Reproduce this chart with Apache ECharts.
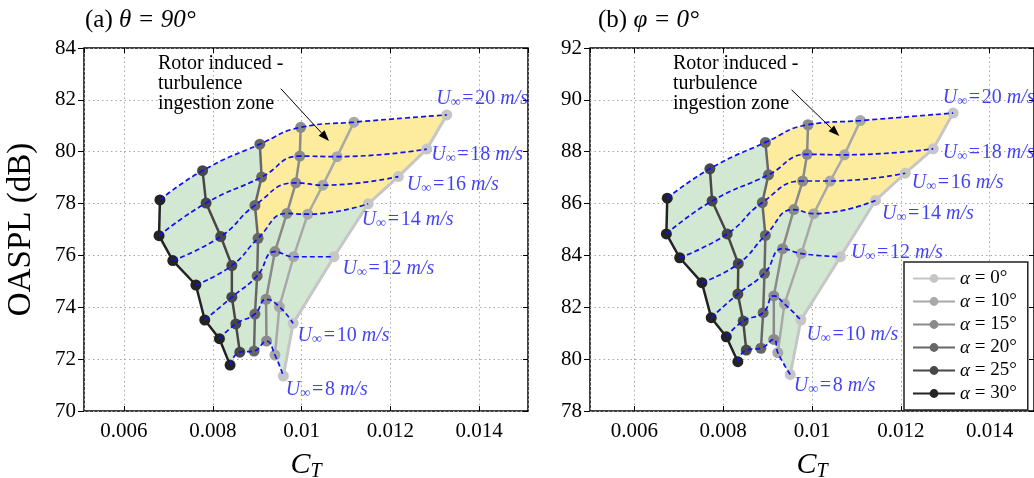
<!DOCTYPE html>
<html>
<head>
<meta charset="utf-8">
<script src="https://cdn.jsdelivr.net/npm/echarts@6/dist/echarts.min.js"></script>
<style>
  html, body { margin: 0; padding: 0; background: #fff; }
  #chart { width: 1034px; height: 478px; }
</style>
</head>
<body>
<div id="chart"></div>
<script>
// Free-stream speeds (m/s) and inflow angles (deg)
const speeds = [8, 10, 12, 14, 16, 18, 20];
const alphas = [0, 10, 15, 20, 25, 30];

// Panel (a): theta = 90 deg. Each array is ordered by speed (8 ... 20 m/s)
const ctA_0   = [0.00959, 0.00981, 0.01073, 0.01150, 0.01218, 0.01282, 0.01327];
const splA_0  = [71.35, 73.38, 75.95, 77.99, 79.04, 80.10, 81.42];
const ctA_10  = [0.00940, 0.00950, 0.00982, 0.01014, 0.01048, 0.01080, 0.01118];
const splA_10 = [72.16, 74.02, 75.95, 77.59, 78.71, 79.81, 81.14];
const ctA_15  = [0.00921, 0.00920, 0.00940, 0.00967, 0.00987, 0.00996, 0.00998];
const splA_15 = [72.70, 74.31, 76.15, 77.62, 78.80, 79.83, 80.94];
const ctA_20  = [0.00893, 0.00895, 0.00900, 0.00902, 0.00895, 0.00910, 0.00906];
const splA_20 = [72.31, 73.74, 75.21, 76.66, 77.93, 79.02, 80.29];
const ctA_25  = [0.00861, 0.00852, 0.00843, 0.00843, 0.00818, 0.00785, 0.00777];
const splA_25 = [72.27, 73.36, 74.39, 75.61, 76.73, 78.02, 79.27];
const ctA_30  = [0.00839, 0.00815, 0.00782, 0.00762, 0.00710, 0.00679, 0.00681];
const splA_30 = [71.77, 72.79, 73.51, 74.86, 75.80, 76.76, 78.14];

// Panel (b): phi = 0 deg
const ctB_0   = [0.00951, 0.00975, 0.01064, 0.01143, 0.01210, 0.01273, 0.01318];
const splB_0  = [79.41, 81.51, 83.95, 86.12, 87.17, 88.11, 89.49];
const ctB_10  = [0.00923, 0.00938, 0.00976, 0.01004, 0.01041, 0.01073, 0.01109];
const splB_10 = [80.25, 82.13, 84.07, 85.61, 86.87, 87.88, 89.20];
const ctB_15  = [0.00914, 0.00914, 0.00934, 0.00959, 0.00979, 0.00989, 0.00991];
const splB_15 = [80.76, 82.44, 84.26, 85.77, 86.87, 87.90, 89.04];
const ctB_20  = [0.00885, 0.00890, 0.00893, 0.00895, 0.00888, 0.00902, 0.00895];
const splB_20 = [80.42, 81.79, 83.31, 84.77, 86.04, 87.11, 88.36];
const ctB_25  = [0.00852, 0.00845, 0.00833, 0.00834, 0.00809, 0.00775, 0.00770];
const splB_25 = [80.35, 81.47, 82.51, 83.68, 84.83, 86.10, 87.34];
const ctB_30  = [0.00833, 0.00807, 0.00773, 0.00752, 0.00702, 0.00672, 0.00674];
const splB_30 = [79.90, 80.86, 81.60, 82.95, 83.91, 84.83, 86.21];

// Axis ranges
const ctRangeA = [0.0051, 0.0151];
const ctRangeB = [0.005, 0.015];
const splRangeA = [70, 84];
const splRangeB = [78, 92];

// Arrow pointing into the ingestion zone: tail and tip in data units
const arrowA = [[0.009534, 82.43], [0.010618, 80.41]];
const arrowB = [[0.009538, 90.39], [0.010615, 88.61]];

const FONT = '"Liberation Serif", "Times New Roman", serif';
const alphaColors = ['#c6c6c6', '#a8a8a8', '#8a8a8a', '#676767', '#474747', '#232323'];
const GREEN = '#d3e8d3';
const YELLOW = '#fdec9e';
const BLUE = '#1010f2';

// Pixel offsets of the speed labels relative to the alpha = 0 point
const labelOffsetA = [[3, 14], [5, 13], [9, 13], [-6, 16], [9, 9], [5, 6], [-10, -16]];
const labelOffsetB = [[4, 12], [6, 15], [11, -3], [7, 14], [7, 10], [10, 4], [-10, -15]];

const panels = [
  { ct: [ctA_0, ctA_10, ctA_15, ctA_20, ctA_25, ctA_30],
    spl: [splA_0, splA_10, splA_15, splA_20, splA_25, splA_30],
    offsets: labelOffsetA, arrow: arrowA },
  { ct: [ctB_0, ctB_10, ctB_15, ctB_20, ctB_25, ctB_30],
    spl: [splB_0, splB_10, splB_15, splB_20, splB_25, splB_30],
    offsets: labelOffsetB, arrow: arrowB }
];

// Bezier segments following the same rule the line series uses for smooth: true
function smoothSegments(pts, smooth) {
  const segs = [];
  let cp0 = pts[0];
  const clamp = (v, a, b) => Math.max(Math.min(v, Math.max(a, b)), Math.min(a, b));
  for (let i = 1; i < pts.length; i++) {
    const prev = pts[i - 1], cur = pts[i], next = pts[i + 1];
    let cp1, nextCp0;
    if (!next) {
      cp1 = cur; nextCp0 = cur;
    } else {
      let vx = next[0] - prev[0], vy = next[1] - prev[1];
      const lenPrev = Math.hypot(cur[0] - prev[0], cur[1] - prev[1]);
      const lenNext = Math.hypot(next[0] - cur[0], next[1] - cur[1]);
      const ratio = lenNext / (lenNext + lenPrev);
      let nx = clamp(cur[0] + vx * smooth * ratio, next[0], cur[0]);
      let ny = clamp(cur[1] + vy * smooth * ratio, next[1], cur[1]);
      vx = nx - cur[0]; vy = ny - cur[1];
      let cx = clamp(cur[0] - vx * lenPrev / lenNext, prev[0], cur[0]);
      let cy = clamp(cur[1] - vy * lenPrev / lenNext, prev[1], cur[1]);
      vx = cur[0] - cx; vy = cur[1] - cy;
      nx = cur[0] + vx * lenNext / lenPrev;
      ny = cur[1] + vy * lenNext / lenPrev;
      cp1 = [cx, cy]; nextCp0 = [nx, ny];
    }
    segs.push([prev, cp0, cp1, cur]);
    cp0 = nextCp0;
  }
  return segs;
}

const P = p => p[0].toFixed(2) + ' ' + p[1].toFixed(2);

function panelSeries(p, gi) {
  const ax = gi * 2;
  const list = [];

  // Shaded operating envelope and the turbulence-ingestion zone
  list.push({
    type: 'custom', xAxisIndex: ax, yAxisIndex: ax, z: 1, silent: true,
    data: [[p.ct[0][0], p.spl[0][0]]],
    renderItem: (params, api) => {
      const cols = p.ct.map((ct, a) => ct.map((c, k) => api.coord([c, p.spl[a][k]])));
      const row = k => cols.map(col => col[k]).reverse(); // alpha 30 -> 0
      const top = smoothSegments(row(6), 0.5);
      const bot = smoothSegments(row(0), 0.5);
      const mid = smoothSegments(row(3), 0.5);
      let g = 'M' + P(top[0][0]);
      top.forEach(s => { g += ' C' + P(s[1]) + ' ' + P(s[2]) + ' ' + P(s[3]); });
      for (let k = 5; k >= 0; k--) g += ' L' + P(cols[0][k]);
      for (let i = bot.length - 1; i >= 0; i--) {
        const s = bot[i]; g += ' C' + P(s[2]) + ' ' + P(s[1]) + ' ' + P(s[0]);
      }
      for (let k = 1; k <= 6; k++) g += ' L' + P(cols[5][k]);
      g += ' Z';

      let y = 'M' + P(top[2][0]);
      for (let i = 2; i < 5; i++) { const s = top[i]; y += ' C' + P(s[1]) + ' ' + P(s[2]) + ' ' + P(s[3]); }
      for (let k = 5; k >= 3; k--) y += ' L' + P(cols[0][k]);
      for (let i = 4; i >= 2; i--) { const s = mid[i]; y += ' C' + P(s[2]) + ' ' + P(s[1]) + ' ' + P(s[0]); }
      for (let k = 4; k <= 6; k++) y += ' L' + P(cols[3][k]);
      y += ' Z';
      return {
        type: 'group',
        children: [
          { type: 'path', shape: { pathData: g }, style: { fill: GREEN } },
          { type: 'path', shape: { pathData: y }, style: { fill: YELLOW } }
        ]
      };
    }
  });

  // Annotation arrow (drawn above the fills and curves)
  list.push({
    type: 'custom', xAxisIndex: ax, yAxisIndex: ax, z: 5, silent: true,
    data: [[p.arrow[1][0], p.arrow[1][1]]],
    renderItem: (params, api) => {
      const a = api.coord(p.arrow[0]);
      const b = api.coord(p.arrow[1]);
      const len = Math.hypot(b[0] - a[0], b[1] - a[1]);
      const ux = (b[0] - a[0]) / len, uy = (b[1] - a[1]) / len;
      const hl = 11, hw = 4;
      const base = [b[0] - ux * hl, b[1] - uy * hl];
      return {
        type: 'group',
        children: [
          { type: 'line', shape: { x1: a[0], y1: a[1], x2: base[0], y2: base[1] },
            style: { stroke: '#000', lineWidth: 1 } },
          { type: 'polygon', shape: { points: [b,
              [base[0] - uy * hw, base[1] + ux * hw],
              [base[0] + uy * hw, base[1] - ux * hw]] },
            style: { fill: '#000' } }
        ]
      };
    }
  });

  // One solid line per inflow angle
  alphas.forEach((a, ai) => {
    list.push({
      type: 'line', name: String(a), xAxisIndex: ax, yAxisIndex: ax, z: 2,
      data: speeds.map((u, k) => [p.ct[ai][k], p.spl[ai][k]]),
      symbol: 'circle', symbolSize: 11, showSymbol: true,
      lineStyle: { color: alphaColors[ai], width: ai === 0 ? 3 : 2.5 },
      itemStyle: { color: alphaColors[ai] },
      emphasis: { disabled: true }, silent: true
    });
  });

  // Dashed constant-speed lines across the angles
  speeds.forEach((u, k) => {
    list.push({
      type: 'line', name: 'U' + u, xAxisIndex: ax, yAxisIndex: ax, z: 3,
      data: alphas.map((a, ai) => [p.ct[ai][k], p.spl[ai][k]]).reverse(),
      smooth: true, symbol: 'none', silent: true,
      lineStyle: { color: BLUE, width: 1.7, type: [5, 3] }
    });
  });

  // Speed labels next to the alpha = 0 end of each dashed line
  list.push({
    type: 'scatter', name: 'labels', xAxisIndex: ax, yAxisIndex: ax, z: 4, silent: true,
    symbol: 'circle', symbolSize: 1, itemStyle: { color: 'rgba(0,0,0,0)' },
    data: speeds.map((u, k) => ({
      value: [p.ct[0][k], p.spl[0][k]],
      label: { offset: p.offsets[k] }
    })),
    label: {
      show: true, position: [0, 0], align: 'left', verticalAlign: 'middle',
      formatter: prm => '{u|U}{s|\u221e}{t|\u200a=\u200a' + speeds[prm.dataIndex] + '}{m| m/s}',
      rich: {
        u: { fontFamily: FONT, fontStyle: 'italic', fontSize: 20, color: BLUE },
        s: { fontFamily: FONT, fontSize: 14, color: BLUE, padding: [7, 0, 0, 0] },
        t: { fontFamily: FONT, fontSize: 20, color: BLUE },
        m: { fontFamily: FONT, fontStyle: 'italic', fontSize: 20, color: BLUE }
      }
    }
  });
  return list;
}

const tickLabel = { color: '#000', fontFamily: FONT, fontSize: 21 };
const gridLine = { show: true, lineStyle: { color: '#a8a8a8', width: 1, type: [1.5, 3] } };
const ctName = {
  name: '{c|C}{t|T}', nameLocation: 'middle', nameGap: 37,
  nameTextStyle: {
    rich: {
      c: { fontFamily: FONT, fontStyle: 'italic', fontSize: 30, color: '#000' },
      t: { fontFamily: FONT, fontStyle: 'italic', fontSize: 20, color: '#000', padding: [14, 0, 0, 0] }
    }
  }
};

function xAxes(gi, range) {
  return [
    Object.assign({
      type: 'value', gridIndex: gi, position: 'bottom', min: range[0], max: range[1], splitNumber: 5,
      axisLine: { show: false },
      axisTick: { show: true, inside: true, length: 5, lineStyle: { color: '#000', width: 1 } },
      axisLabel: Object.assign({ margin: 10, showMinLabel: false, showMaxLabel: false }, tickLabel),
      splitLine: gridLine
    }, ctName),
    {
      type: 'value', gridIndex: gi, position: 'top', min: range[0], max: range[1], splitNumber: 5,
      axisLine: { show: false },
      axisTick: { show: true, inside: true, length: 5, lineStyle: { color: '#000', width: 1 } },
      axisLabel: { show: false }, splitLine: { show: false }
    }
  ];
}

function yAxes(gi, range, withName) {
  const left = {
    type: 'value', gridIndex: gi, position: 'left', min: range[0], max: range[1], interval: 2,
    axisLine: { show: false },
    axisTick: { show: true, inside: false, length: 6, lineStyle: { color: '#000', width: 1 } },
    axisLabel: Object.assign({ margin: 8 }, tickLabel),
    splitLine: gridLine
  };
  if (withName) {
    Object.assign(left, {
      name: 'OASPL (dB)', nameLocation: 'middle', nameGap: 46,
      nameTextStyle: { fontFamily: FONT, fontSize: 33, color: '#000' }
    });
  }
  return [left, {
    type: 'value', gridIndex: gi, position: 'right', min: range[0], max: range[1], interval: 2,
    axisLine: { show: false },
    axisTick: { show: true, inside: true, length: 5, lineStyle: { color: '#000', width: 1 } },
    axisLabel: { show: false }, splitLine: { show: false }
  }];
}

const titleRich = {
  n: { fontFamily: FONT, fontSize: 25, fontWeight: 'normal', color: '#000' },
  i: { fontFamily: FONT, fontSize: 25, fontWeight: 'normal', fontStyle: 'italic', color: '#000' }
};

const annotation = (x) => ({
  type: 'text', left: x, top: 54, z: 10, silent: true,
  style: {
    text: 'Rotor induced -\nturbulence\ningestion zone',
    fontFamily: FONT, fontSize: 20, lineHeight: 20, fill: '#000'
  }
});

const gridBase = {
  top: 48, width: 444, height: 363, show: true, borderColor: '#000', borderWidth: 1.5,
  containLabel: false, outerBoundsMode: 'none'
};

const chart = echarts.init(document.getElementById('chart'), null, { renderer: 'canvas' });
chart.setOption({
  animation: false,
  backgroundColor: '#fff',
  title: [
    { left: 80, top: 3, text: '{n|(a) }{i|\u03b8 = 90\u00b0}', textStyle: { fontWeight: 'normal', rich: titleRich } },
    { left: 593, top: 3, text: '{n|(b) }{i|\u03c6 = 0\u00b0}', textStyle: { fontWeight: 'normal', rich: titleRich } }
  ],
  grid: [
    Object.assign({ left: 84 }, gridBase),
    Object.assign({ left: 590 }, gridBase)
  ],
  xAxis: [].concat(xAxes(0, ctRangeA), xAxes(1, ctRangeB)),
  yAxis: [].concat(yAxes(0, splRangeA, true), yAxes(1, splRangeB, false)),
  legend: {
    data: alphas.map(String), selectedMode: false, orient: 'vertical',
    left: 904, top: 262, padding: [7, 11, 7, 8], itemGap: 4,
    itemWidth: 42, itemHeight: 11,
    backgroundColor: '#fff', borderColor: '#222', borderWidth: 1.5, borderRadius: 0,
    formatter: name => '{i|\u03b1} = ' + name + '\u00b0',
    textStyle: {
      fontFamily: FONT, fontSize: 19, lineHeight: 19, color: '#000',
      rich: { i: { fontFamily: FONT, fontSize: 19, fontStyle: 'italic', color: '#000' } }
    },
    z: 20
  },
  graphic: [annotation(158), annotation(673)],
  series: [].concat(panelSeries(panels[0], 0), panelSeries(panels[1], 1))
});
</script>
</body>
</html>
